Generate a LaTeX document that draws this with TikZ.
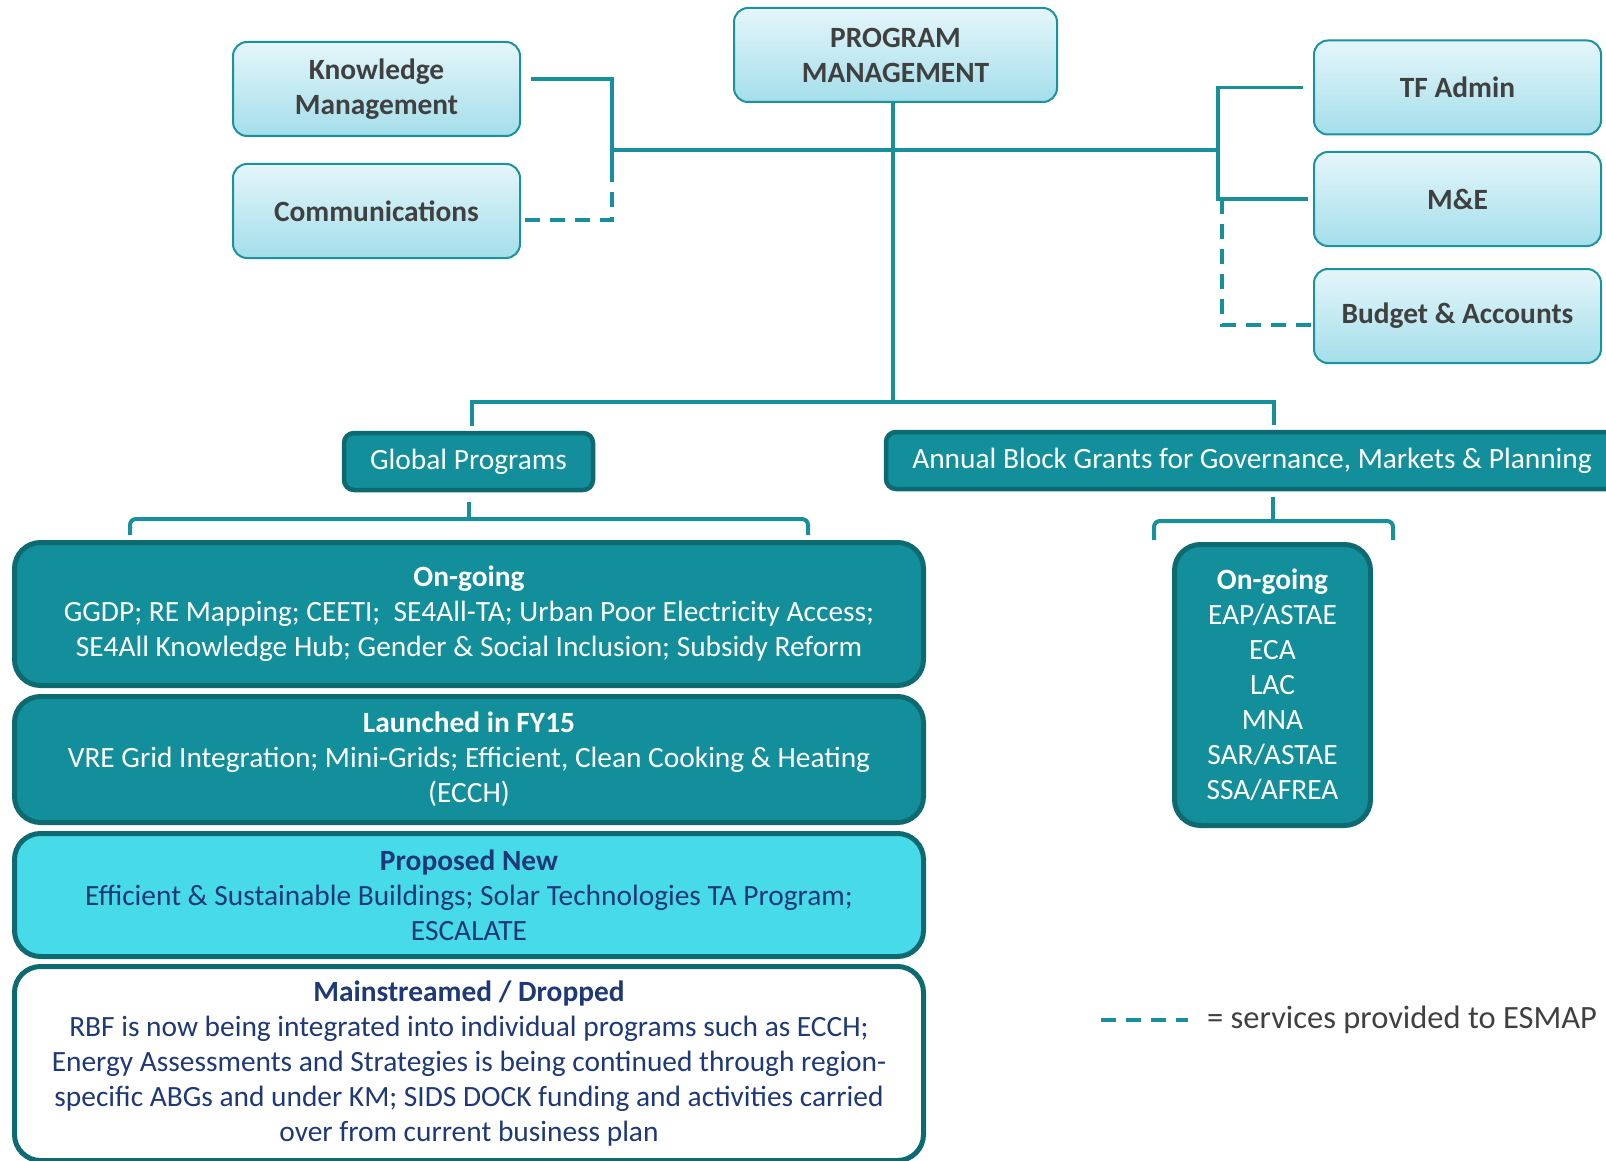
\documentclass[tikz,border=0pt]{standalone}
\usepackage{fontspec}
\setmainfont{Carlito}
\definecolor{linecol}{RGB}{23,144,156}
\definecolor{boxedge}{RGB}{26,147,158}
\definecolor{topA}{RGB}{228,246,250}
\definecolor{topB}{RGB}{164,222,234}
\definecolor{tealfill}{RGB}{19,143,155}
\definecolor{tealedge}{RGB}{13,106,112}
\definecolor{propfill}{RGB}{71,218,232}
\definecolor{navy}{RGB}{30,56,120}
\definecolor{txtgray}{RGB}{64,64,64}
\newcommand\fsz{\fontsize{29.4}{35}\selectfont}
\tikzset{
  topbox/.style={draw=boxedge, line width=2pt, rounded corners=14pt, top color=topA, bottom color=topB,
    minimum width=287pt, minimum height=94pt, inner sep=0pt, align=center, font=\fsz\bfseries, text=txtgray},
  headbox/.style={draw=tealedge, line width=4.5pt, fill=tealfill, rounded corners=10pt, text=white,
    minimum height=57pt, inner sep=0pt, font=\fsz},
  tealbox/.style={draw=tealedge, line width=5pt, fill=tealfill, rounded corners=26pt, text=white,
    align=center, inner sep=0pt, font=\fsz, minimum width=909pt},
  conn/.style={draw=linecol, line width=3.5pt},
  svc/.style={draw=linecol, line width=3.5pt, dash pattern=on 15pt off 10pt},
  brk/.style={draw=linecol, line width=4pt, rounded corners=6pt},
}
\begin{document}
\begin{tikzpicture}[x=1pt,y=-1pt]
\useasboundingbox (0,0) rectangle (1606,1161);
\clip (0,0) rectangle (1606,1161);

% top boxes
\node[topbox] (km) at (376.5,89) {Knowledge\\Management};
\node[topbox] (comm) at (376.5,211) {Communications};
\node[topbox, minimum width=323pt] (pm) at (895.5,55) {PROGRAM\\MANAGEMENT};
\node[topbox] (tf) at (1457.5,87.5) {TF Admin};
\node[topbox] (me) at (1457.5,199) {M\&E};
\node[topbox] (budget) at (1457.5,316) {Budget \& Accounts};

% head boxes
\node[headbox, minimum width=249pt] (gp) at (468.5,461.5) {Global Programs\hspace{8pt}};
\node[headbox, minimum width=732pt] (abg) at (1252,460.5) {Annual Block Grants for Governance, Markets \& Planning};

% big boxes
\node[tealbox, minimum height=143pt] (ongo) at (469,614)
  {\textbf{On-going}\\GGDP; RE Mapping; CEETI;\ \ SE4All-TA; Urban Poor Electricity Access;\\SE4All Knowledge Hub; Gender \& Social Inclusion; Subsidy Reform};
\node[tealbox, minimum height=126pt] (launch) at (469,759.5)
  {\textbf{Launched in FY15}\\VRE Grid Integration; Mini-Grids; Efficient, Clean Cooking \& Heating\\(ECCH)};
\node[tealbox, fill=propfill, text=navy, minimum height=123pt] (prop) at (469,895)
  {\textbf{Proposed New}\\Efficient \& Sustainable Buildings; Solar Technologies TA Program;\\ESCALATE};
\node[tealbox, fill=white, text=navy, minimum height=194pt] (main) at (469,1063.5)
  {\textbf{Mainstreamed / Dropped}\\RBF is now being integrated into individual programs such as ECCH;\\Energy Assessments and Strategies is being continued through region-\\specific ABGs and under KM; SIDS DOCK funding and activities carried\\over from current business plan};
\node[tealbox, minimum width=196pt, minimum height=281pt] (abgon) at (1272.5,685)
  {\textbf{On-going}\\EAP/ASTAE\\ECA\\LAC\\MNA\\SAR/ASTAE\\SSA/AFREA};

% junctions
\coordinate (jL) at (612,150);
\coordinate (jR) at (1218,150);
\coordinate (jP) at (893,402);

% connectors top-left
\draw[conn] ([xshift=10pt,yshift=10pt]km.east) -| (612,167);
\draw[svc] (612,167) -- (612,220) -- ([xshift=4pt,yshift=-9pt]comm.east);
\draw[conn] (jL) -- (jR);
% connectors top-right
\draw[conn] ([xshift=-10pt]tf.west) -| (1218,199) -- ([xshift=-5pt]me.west);
\draw[svc] (1222,199) -- (1222,325) -- ([yshift=-9pt]budget.west);
% program management down
\draw[conn] (pm.south -| jP) -- (jP);
\draw[conn] ([xshift=3.5pt,yshift=5pt]gp.north) |- (jP) -- (1274,402) -- (1274,425);

% brackets
\draw[brk] (130,535) -- (130,519) -- (808,519) -- (808,535);
\draw[brk] (469,502) -- (469,519);
\draw[brk] (1154,540) -- (1154,521) -- (1393,521) -- (1393,540);
\draw[brk] (1273,497) -- (1273,521);

% legend
\coordinate (lg1) at (1101,1020);
\coordinate (lg2) at (1188,1020);
\draw[svc] (lg1) -- (lg2);
\node[anchor=west, inner sep=0pt, font=\fontsize{32.5}{38}\selectfont, text=txtgray] (legend) at (1207,1020) {= services provided to ESMAP};
\end{tikzpicture}
\end{document}
